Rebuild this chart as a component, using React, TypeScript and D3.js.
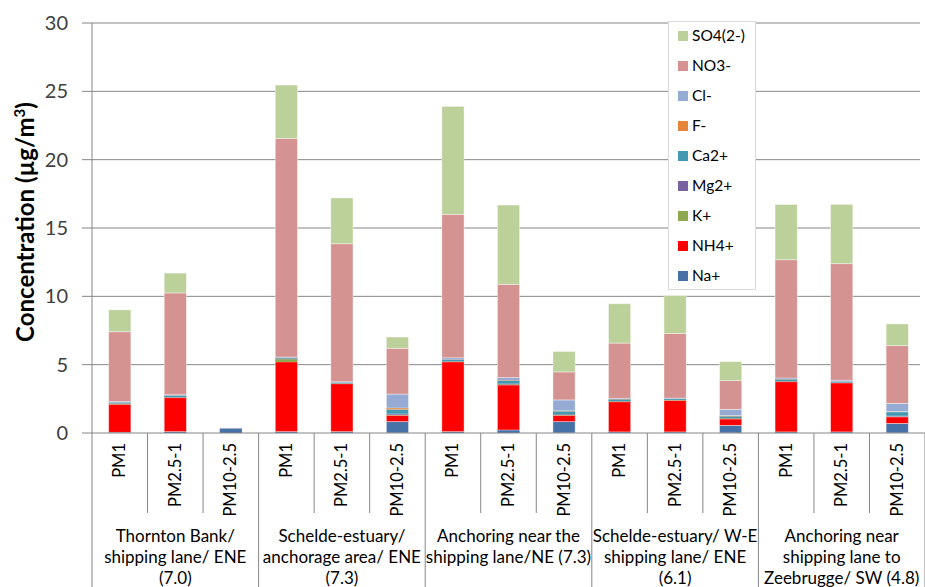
import React, { useEffect, useRef } from 'react'
import * as d3 from 'd3'

const groups = [
  ['Thornton Bank/', 'shipping lane/ ENE', '(7.0)'],
  ['Schelde-estuary/', 'anchorage area/ ENE', '(7.3)'],
  ['Anchoring near the', 'shipping lane/NE (7.3)'],
  ['Schelde-estuary/ W-E', 'shipping lane/ ENE', '(6.1)'],
  ['Anchoring near', 'shipping lane to', 'Zeebrugge/ SW (4.8)'],
]
const fractions = ['PM1', 'PM2.5-1', 'PM10-2.5']

const seriesNames = ['Na+', 'NH4+', 'K+', 'Mg2+', 'Ca2+', 'F-', 'Cl-', 'NO3-', 'SO4(2-)']
const seriesColors = ['#4672A8', '#FF0000', '#8EA84E', '#7A62A0', '#4399B1', '#E6843A', '#95ABD4', '#D49391', '#BCD09A']

const na = [0.05, 0.1, 0.3, 0.1, 0.1, 0.83, 0.1, 0.22, 0.83, 0.08, 0.08, 0.56, 0.08, 0.08, 0.7]
const nh4 = [2.05, 2.48, 0, 5.1, 3.5, 0.46, 5.1, 3.29, 0.46, 2.2, 2.3, 0.46, 3.67, 3.58, 0.47]
const k = [0.05, 0.03, 0, 0.2, 0.02, 0.03, 0.03, 0.05, 0.03, 0.04, 0.03, 0.05, 0.03, 0.02, 0.03]
const mg = [0.02, 0.02, 0.03, 0.03, 0.01, 0.07, 0.02, 0.05, 0.05, 0.02, 0.01, 0.03, 0.02, 0.02, 0.04]
const ca = [0.05, 0.1, 0, 0.05, 0.05, 0.34, 0.1, 0.2, 0.22, 0.12, 0.07, 0.12, 0.12, 0.05, 0.3]
const f = [0.01, 0.01, 0, 0.03, 0.01, 0.1, 0.02, 0.04, 0.03, 0.02, 0.01, 0.05, 0.02, 0.01, 0.03]
const cl = [0.08, 0.06, 0.04, 0.05, 0.06, 1.02, 0.13, 0.2, 0.8, 0.06, 0.05, 0.46, 0.08, 0.1, 0.6]
const no3 = [5.1, 7.45, 0, 16.0, 10.1, 3.35, 10.5, 6.83, 2.05, 4.04, 4.73, 2.1, 8.66, 8.53, 4.22]
const so4 = [1.6, 1.45, 0, 3.9, 3.35, 0.82, 7.9, 5.8, 1.5, 2.88, 2.78, 1.39, 4.04, 4.34, 1.59]

const yTicks = [0, 5, 10, 15, 20, 25, 30]

const App: React.FC = () => {
  const ref = useRef<SVGSVGElement>(null)

  useEffect(() => {
    const width = 925
    const height = 587
    const left = 92
    const right = 925
    const top = 23
    const bottom = 433
    const font = 'Lato, "Open Sans", sans-serif'
    const grey = '#868686'

    const svg = d3.select(ref.current)
    svg.selectAll('*').remove()
    svg.attr('width', width).attr('height', height)

    // one row per bar
    const all = [na, nh4, k, mg, ca, f, cl, no3, so4]
    const rows = groups.flatMap((g, gi) =>
      fractions.map((fr, fi) => {
        const i = gi * 3 + fi
        const row: any = { key: `${gi}-${fr}`, label: fr, group: gi }
        seriesNames.forEach((s, si) => (row[s] = all[si][i]))
        return row
      })
    )

    const x = d3
      .scaleBand()
      .domain(rows.map((r) => r.key))
      .range([left, right])
      .paddingInner(0.6)
      .paddingOuter(0.3)
    const step = x.step()
    const y = d3.scaleLinear().domain([0, 30]).range([bottom, top])

    /* gridlines */
    svg
      .append('g')
      .selectAll('line')
      .data(yTicks.slice(1))
      .enter()
      .append('line')
      .attr('x1', left)
      .attr('x2', right - 5)
      .attr('y1', (d) => y(d))
      .attr('y2', (d) => y(d))
      .attr('stroke', grey)
      .attr('stroke-width', 1)

    /* y axis */
    const yAxis = svg.append('g').attr('transform', `translate(${left},0)`)
    yAxis
      .append('line')
      .attr('x1', 0)
      .attr('x2', 0)
      .attr('y1', top)
      .attr('y2', bottom)
      .attr('stroke', grey)
    yTicks.forEach((t) => {
      yAxis
        .append('line')
        .attr('x1', -10)
        .attr('x2', 0)
        .attr('y1', y(t))
        .attr('y2', y(t))
        .attr('stroke', grey)
      yAxis
        .append('text')
        .attr('x', -24)
        .attr('y', y(t))
        .attr('dy', '0.35em')
        .attr('text-anchor', 'end')
        .attr('font-family', font)
        .attr('font-size', 20)
        .attr('fill', '#404040')
        .text(t)
    })

    const title = svg
      .append('text')
      .attr('transform', `translate(34,222) rotate(-90)`)
      .attr('text-anchor', 'middle')
      .attr('font-family', font)
      .attr('font-size', 24)
      .attr('font-weight', 'bold')
      .attr('fill', '#000')
    title.append('tspan').text('Concentration (µg/m')
    title.append('tspan').attr('font-size', 15).attr('dy', -9).text('3')
    title.append('tspan').attr('dy', 9).text(')')

    /* stacked bars */
    const stacked = d3.stack().keys(seriesNames)(rows as any)
    svg
      .append('g')
      .selectAll('g')
      .data(stacked)
      .enter()
      .append('g')
      .attr('fill', (_, i) => seriesColors[i])
      .selectAll('rect')
      .data((d) => d)
      .enter()
      .append('rect')
      .attr('x', (d: any) => x(d.data.key) as number)
      .attr('width', x.bandwidth())
      .attr('y', (d) => y(d[1]))
      .attr('height', (d) => Math.max(0, y(d[0]) - y(d[1])))
      .attr('stroke', '#fff')
      .attr('stroke-opacity', (d) => (d[1] - d[0] > 0.3 ? 0.5 : 0))
      .attr('stroke-width', 0.8)

    /* x axis and category separators */
    svg
      .append('line')
      .attr('x1', left)
      .attr('x2', right)
      .attr('y1', bottom)
      .attr('y2', bottom)
      .attr('stroke', grey)
    d3.range(rows.length + 1).forEach((i) => {
      const xx = left + i * step
      svg
        .append('line')
        .attr('x1', xx)
        .attr('x2', xx)
        .attr('y1', bottom)
        .attr('y2', i % 3 === 0 ? height : 513)
        .attr('stroke', grey)
    })

    rows.forEach((r) => {
      const cx = (x(r.key) as number) + x.bandwidth() / 2
      svg
        .append('text')
        .attr('transform', `translate(${cx + 5.5},443) rotate(-90)`)
        .attr('text-anchor', 'end')
        .attr('font-family', font)
        .attr('font-size', 16.5)
        .attr('fill', '#000')
        .text(r.label)
    })

    groups.forEach((lines, gi) => {
      const cx = left + (gi * 3 + 1.5) * step
      lines.forEach((line, li) => {
        svg
          .append('text')
          .attr('x', cx)
          .attr('y', 542 + li * 21)
          .attr('text-anchor', 'middle')
          .attr('font-family', font)
          .attr('font-size', 17)
          .attr('fill', '#000')
          .text(line)
      })
    })

    /* legend */
    const legend = svg.append('g')
    legend
      .append('rect')
      .attr('x', 668.5)
      .attr('y', 21.5)
      .attr('width', 87)
      .attr('height', 268)
      .attr('fill', '#fff')
      .attr('stroke', '#D9D9D9')
    const legendItems = seriesNames.map((s, i) => ({ s, c: seriesColors[i] })).reverse()
    legendItems.forEach((it, i) => {
      const ly = 36 + i * 30
      legend
        .append('rect')
        .attr('x', 678)
        .attr('y', ly - 5)
        .attr('width', 10)
        .attr('height', 10)
        .attr('fill', it.c)
      legend
        .append('text')
        .attr('x', 692)
        .attr('y', ly)
        .attr('dy', '0.35em')
        .attr('font-family', font)
        .attr('font-size', 15.5)
        .attr('fill', '#000')
        .text(it.s)
    })
  }, [])

  return (
    <svg ref={ref} style={{ position: 'absolute', left: 0, top: 0, display: 'block', background: '#fff' }} />
  )
}

export default App
